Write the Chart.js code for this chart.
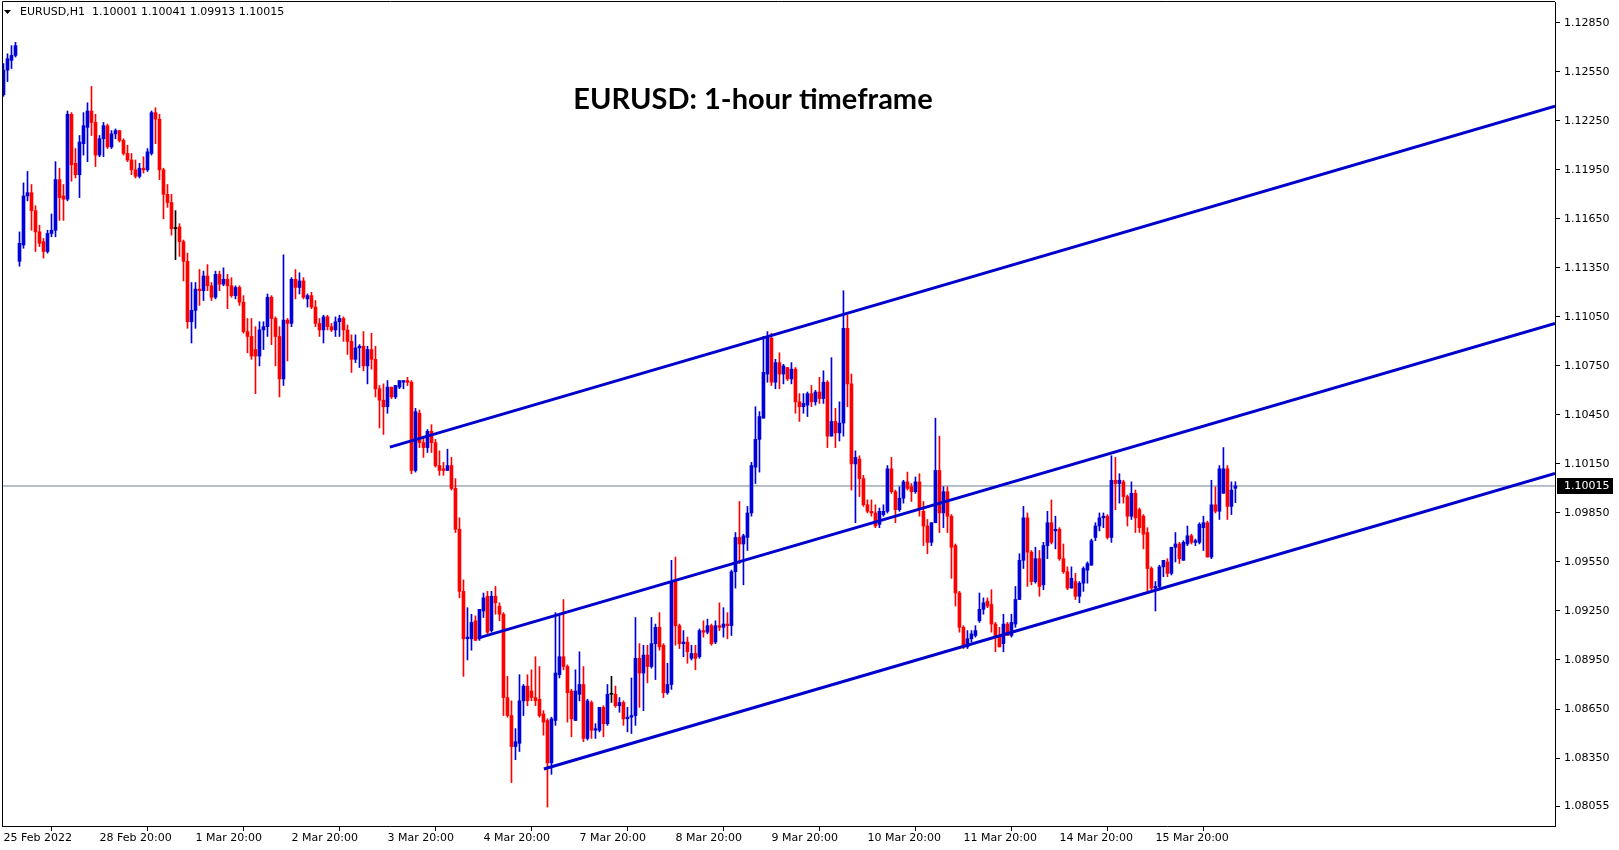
<!DOCTYPE html>
<html>
<head>
<meta charset="utf-8">
<title>EURUSD H1</title>
<script src="https://cdn.jsdelivr.net/npm/chart.js"></script>
<style>
  html, body { margin: 0; padding: 0; background: #fff; }
</style>
</head>
<body>
<canvas id="eurusd" width="1619" height="850"></canvas>
<script>
// EURUSD H1 candles, bar 0 = 25 Feb 20:00
const open = [
1.1241,1.1256,1.1262,1.1265,1.1139,1.1149,1.1179,1.1181,1.1170,1.1157,
1.1151,1.1145,1.1156,1.1158,1.1189,1.1179,1.1177,1.1229,1.1199,1.1192,
1.1211,1.1221,1.1231,1.1224,1.1204,1.1214,1.1222,1.1209,1.1217,1.1219,
1.1213,1.1205,1.1201,1.1195,1.1191,1.1196,1.1195,1.1205,1.1230,1.1226,
1.1195,1.1180,1.1175,1.1159,1.1160,1.1151,1.1139,1.1102,1.1109,1.1122,
1.1121,1.1130,1.1124,1.1117,1.1131,1.1125,1.1128,1.1124,1.1118,1.1123,
1.1114,1.1096,1.1093,1.1085,1.1081,1.1097,1.1099,1.1117,1.1104,1.1093,
1.1067,1.1103,1.1101,1.1128,1.1123,1.1127,1.1116,1.1118,1.1111,1.1101,
1.1097,1.1105,1.1099,1.1097,1.1102,1.1104,1.1097,1.1090,1.1079,1.1086,
1.1087,1.1075,1.1085,1.1079,1.1061,1.1054,1.1050,1.1062,1.1056,1.1062,
1.1065,1.1066,1.1065,1.1011,1.1046,1.1028,1.1025,1.1035,1.1028,1.1014,
1.1012,1.1011,1.1014,1.1000,1.0975,1.0937,1.0908,1.0908,1.0919,1.0908,
1.0925,1.0934,1.0913,1.0934,1.0928,1.0923,1.0872,1.0861,1.0842,1.0844,
1.0870,1.0879,1.0876,1.0872,1.0871,1.0862,1.0858,1.0832,1.0858,1.0886,
1.0897,1.0891,1.0876,1.0858,1.0874,1.0880,1.0847,1.0869,1.0852,1.0852,
1.0866,1.0856,1.0874,1.0874,1.0867,1.0869,1.0859,1.0860,1.0861,1.0896,
1.0887,1.0898,1.0891,1.0905,1.0915,1.0904,1.0875,1.0880,1.0943,1.0916,
1.0905,1.0906,1.0896,1.0899,1.0897,1.0913,1.0912,1.0916,1.0906,1.0916,
1.0915,1.0917,1.0916,1.0949,1.0970,1.0966,1.0970,1.0985,1.1013,1.1030,
1.1043,1.1070,1.1092,1.1065,1.1077,1.1070,1.1074,1.1067,1.1073,1.1053,
1.1050,1.1051,1.1058,1.1053,1.1059,1.1055,1.1065,1.1032,1.1041,1.1034,
1.1040,1.1098,1.1064,1.1015,1.1018,1.1006,1.0990,1.0986,1.0985,1.0978,
1.0984,1.0986,1.1012,1.0998,1.0987,1.0994,1.1004,1.1001,1.0998,1.1004,
1.0986,1.0977,1.0967,1.0979,1.1011,1.0985,1.0998,1.0983,1.0965,1.0936,
1.0915,1.0903,1.0908,1.0910,1.0919,1.0926,1.0931,1.0929,1.0917,1.0910,
1.0905,1.0917,1.0910,1.0917,1.0932,1.0956,1.0982,1.0961,1.0943,1.0957,
1.0941,1.0965,1.0979,1.0974,1.0975,1.0957,1.0949,1.0939,1.0943,1.0934,
1.0942,1.0950,1.0953,1.0970,1.0977,1.0982,1.0983,1.0970,1.1005,1.1003,
1.1004,1.0995,1.0983,1.0997,1.0987,1.0983,1.0973,1.0951,1.0939,1.0940,
1.0952,1.0955,1.0948,1.0964,1.0966,1.0956,1.0966,1.0971,1.0967,1.0967,
1.0976,1.0979,1.0958,1.0990,1.0986,1.0997,1.1012,1.0989,1.10001]
const high = [
1.1260,1.1266,1.1271,1.1273,1.1157,1.1187,1.1194,1.1186,1.1173,1.1161,
1.1153,1.1158,1.1168,1.1200,1.1196,1.1186,1.1231,1.1230,1.1208,1.1216,
1.1230,1.1236,1.1246,1.1229,1.1216,1.1224,1.1223,1.1219,1.1220,1.1219,
1.1214,1.1210,1.1205,1.1201,1.1199,1.1203,1.1208,1.1231,1.1233,1.1229,
1.1196,1.1186,1.1180,1.1170,1.1162,1.1152,1.1144,1.1126,1.1126,1.1134,
1.1133,1.1137,1.1126,1.1133,1.1133,1.1135,1.1131,1.1129,1.1124,1.1124,
1.1118,1.1104,1.1104,1.1099,1.1102,1.1102,1.1119,1.1118,1.1105,1.1099,
1.1143,1.1104,1.1129,1.1134,1.1132,1.1129,1.1119,1.1120,1.1115,1.1104,
1.1106,1.1106,1.1101,1.1105,1.1106,1.1105,1.1100,1.1094,1.1094,1.1088,
1.1096,1.1087,1.1095,1.1087,1.1063,1.1064,1.1066,1.1062,1.1063,1.1066,
1.1066,1.1068,1.1066,1.1049,1.1048,1.1031,1.1036,1.1039,1.1030,1.1023,
1.1016,1.1024,1.1019,1.1006,1.0982,1.0944,1.0927,1.0923,1.0922,1.0926,
1.0936,1.0937,1.0937,1.0940,1.0930,1.0924,1.0885,1.0870,1.0853,1.0886,
1.0880,1.0886,1.0889,1.0897,1.0891,1.0864,1.0859,1.0860,1.0924,1.0923,
1.0932,1.0892,1.0877,1.0889,1.0900,1.0891,1.0871,1.0870,1.0856,1.0866,
1.0867,1.0880,1.0885,1.0879,1.0872,1.0870,1.0866,1.0884,1.0921,1.0905,
1.0904,1.0904,1.0921,1.0917,1.0924,1.0905,1.0893,1.0956,1.0958,1.0917,
1.0913,1.0909,1.0904,1.0904,1.0914,1.0919,1.0920,1.0917,1.0919,1.0930,
1.0927,1.0924,1.0950,1.0973,1.0992,1.0972,1.0989,1.1016,1.1050,1.1047,
1.1093,1.1096,1.1095,1.1079,1.1083,1.1076,1.1074,1.1077,1.1074,1.1058,
1.1058,1.1059,1.1063,1.1060,1.1068,1.1072,1.1066,1.1080,1.1049,1.1053,
1.1121,1.1106,1.1070,1.1023,1.1020,1.1008,1.0993,1.0993,1.0990,1.0988,
1.0990,1.1014,1.1019,1.0999,1.1001,1.1005,1.1010,1.1003,1.1007,1.1009,
1.0992,1.0981,1.0979,1.1043,1.1032,1.1001,1.1001,1.0984,1.0966,1.0937,
1.0916,1.0913,1.0913,1.0916,1.0936,1.0933,1.0933,1.0938,1.0918,1.0915,
1.0923,1.0918,1.0923,1.0940,1.0960,1.0989,1.0985,1.0962,1.0964,1.0962,
1.0967,1.0986,1.0993,1.0983,1.0976,1.0966,1.0952,1.0952,1.0948,1.0943,
1.0952,1.0955,1.0969,1.0979,1.0985,1.0985,1.0984,1.1020,1.1019,1.1009,
1.1005,1.0996,1.1004,1.0999,1.0988,1.0984,1.0976,1.0952,1.0943,1.0953,
1.0956,1.0957,1.0964,1.0973,1.0967,1.0968,1.0977,1.0972,1.0969,1.0979,
1.0983,1.0980,1.1005,1.1001,1.1014,1.1025,1.1014,1.1004,1.10041]
const low = [
1.1240,1.1249,1.1257,1.1264,1.1136,1.1147,1.1176,1.1158,1.1145,1.1148,
1.1141,1.1144,1.1154,1.1154,1.1164,1.1164,1.1176,1.1188,1.1190,1.1178,
1.1204,1.1200,1.1216,1.1197,1.1203,1.1203,1.1208,1.1208,1.1214,1.1212,
1.1204,1.1200,1.1192,1.1190,1.1190,1.1193,1.1194,1.1204,1.1211,1.1189,
1.1165,1.1172,1.1155,1.1140,1.1142,1.1127,1.1098,1.1089,1.1098,1.1112,
1.1115,1.1121,1.1115,1.1116,1.1121,1.1124,1.1110,1.1117,1.1116,1.1112,
1.1095,1.1083,1.1079,1.1058,1.1075,1.1085,1.1093,1.1088,1.1075,1.1056,
1.1063,1.1078,1.1099,1.1116,1.1119,1.1116,1.1111,1.1110,1.1099,1.1093,
1.1089,1.1097,1.1096,1.1093,1.1093,1.1090,1.1082,1.1071,1.1077,1.1074,
1.1072,1.1064,1.1073,1.1056,1.1037,1.1033,1.1046,1.1055,1.1055,1.1061,
1.1061,1.1063,1.1009,1.1010,1.1025,1.1019,1.1022,1.1022,1.1013,1.1008,
1.1008,1.1011,1.0999,1.0973,1.0933,1.0885,1.0895,1.0901,1.0907,1.0907,
1.0921,1.0910,1.0912,1.0923,1.0919,1.0861,1.0860,1.0820,1.0834,1.0839,
1.0861,1.0867,1.0870,1.0867,1.0860,1.0849,1.0805,1.0825,1.0855,1.0884,
1.0889,1.0857,1.0848,1.0858,1.0870,1.0845,1.0846,1.0847,1.0847,1.0851,
1.0848,1.0855,1.0869,1.0866,1.0863,1.0855,1.0851,1.0850,1.0855,1.0866,
1.0864,1.0881,1.0890,1.0883,1.0901,1.0872,1.0874,1.0877,1.0904,1.0902,
1.0897,1.0893,1.0895,1.0889,1.0896,1.0909,1.0911,1.0904,1.0905,1.0913,
1.0909,1.0908,1.0910,1.0939,1.0954,1.0941,1.0962,1.0983,1.1003,1.1010,
1.1043,1.1065,1.1063,1.1061,1.1061,1.1064,1.1066,1.1064,1.1046,1.1041,
1.1046,1.1044,1.1050,1.1051,1.1052,1.1052,1.1025,1.1032,1.1025,1.1029,
1.1032,1.1050,1.0999,1.0979,1.0995,1.0989,1.0985,1.0983,1.0976,1.0976,
1.0983,1.0985,1.0997,1.0979,1.0986,1.0991,1.0999,1.0992,1.0997,1.0983,
1.0965,1.0960,1.0965,1.0979,1.0973,1.0976,1.0973,1.0945,1.0928,1.0912,
1.0902,1.0902,1.0906,1.0909,1.0918,1.0923,1.0927,1.0912,1.0900,1.0903,
1.0900,1.0910,1.0909,1.0915,1.0932,1.0951,1.0940,1.0941,1.0942,1.0934,
1.0938,1.0957,1.0966,1.0963,1.0956,1.0948,1.0938,1.0939,1.0932,1.0930,
1.0937,1.0942,1.0953,1.0968,1.0974,1.0976,1.0969,1.0967,1.0987,1.0991,
1.0991,1.0977,1.0981,1.0973,1.0973,1.0963,1.0937,1.0937,1.0925,1.0939,
1.0946,1.0946,1.0947,1.0955,1.0954,1.0956,1.0965,1.0966,1.0965,1.0966,
1.0962,1.0958,1.0957,1.0985,1.0981,1.0997,1.0981,1.0984,1.09913]
const close = [
1.1256,1.1263,1.1265,1.1271,1.1150,1.1179,1.1181,1.1170,1.1157,1.1150,
1.1145,1.1156,1.1158,1.1189,1.1178,1.1177,1.1229,1.1198,1.1192,1.1212,
1.1222,1.1231,1.1224,1.1204,1.1214,1.1222,1.1209,1.1217,1.1219,1.1213,
1.1205,1.1201,1.1195,1.1191,1.1196,1.1195,1.1206,1.1230,1.1226,1.1195,
1.1180,1.1175,1.1159,1.1159,1.1151,1.1139,1.1102,1.1109,1.1122,1.1121,
1.1130,1.1124,1.1117,1.1131,1.1125,1.1128,1.1124,1.1118,1.1123,1.1114,
1.1096,1.1093,1.1081,1.1081,1.1097,1.1099,1.1117,1.1104,1.1093,1.1067,
1.1103,1.1101,1.1128,1.1123,1.1127,1.1117,1.1118,1.1111,1.1101,1.1097,
1.1105,1.1099,1.1097,1.1102,1.1104,1.1097,1.1090,1.1079,1.1086,1.1087,
1.1075,1.1085,1.1079,1.1061,1.1054,1.1050,1.1062,1.1056,1.1063,1.1066,
1.1066,1.1065,1.1011,1.1047,1.1028,1.1025,1.1035,1.1028,1.1014,1.1011,
1.1011,1.1014,1.1000,1.0975,1.0937,1.0908,1.0909,1.0918,1.0907,1.0926,
1.0933,1.0912,1.0934,1.0930,1.0923,1.0872,1.0861,1.0842,1.0845,1.0870,
1.0879,1.0870,1.0872,1.0870,1.0861,1.0857,1.0832,1.0859,1.0887,1.0897,
1.0891,1.0875,1.0859,1.0876,1.0880,1.0847,1.0870,1.0852,1.0853,1.0866,
1.0856,1.0874,1.0874,1.0867,1.0869,1.0859,1.0860,1.0861,1.0896,1.0887,
1.0898,1.0891,1.0905,1.0915,1.0903,1.0875,1.0880,1.0943,1.0916,1.0905,
1.0906,1.0900,1.0899,1.0896,1.0913,1.0912,1.0916,1.0905,1.0916,1.0915,
1.0917,1.0916,1.0949,1.0970,1.0966,1.0971,1.0985,1.1014,1.1030,1.1044,
1.1071,1.1093,1.1065,1.1077,1.1070,1.1075,1.1067,1.1073,1.1053,1.1050,
1.1052,1.1058,1.1053,1.1059,1.1055,1.1065,1.1032,1.1041,1.1034,1.1040,
1.1098,1.1064,1.1015,1.1019,1.1006,1.0990,1.0986,1.0985,1.0977,1.0986,
1.0986,1.1012,1.0998,1.0987,1.0994,1.1004,1.1000,1.0998,1.1004,1.0987,
1.0977,1.0967,1.0979,1.1011,1.0985,1.0998,1.0983,1.0964,1.0936,1.0915,
1.0903,1.0908,1.0911,1.0913,1.0926,1.0930,1.0928,1.0917,1.0910,1.0903,
1.0917,1.0910,1.0918,1.0932,1.0956,1.0982,1.0961,1.0943,1.0957,1.0940,
1.0965,1.0979,1.0967,1.0975,1.0957,1.0949,1.0939,1.0945,1.0934,1.0942,
1.0951,1.0954,1.0968,1.0977,1.0982,1.0983,1.0970,1.1005,1.1003,1.1005,
1.0995,1.0983,1.0997,1.0982,1.0976,1.0972,1.0951,1.0939,1.0940,1.0952,
1.0956,1.0948,1.0964,1.0966,1.0957,1.0967,1.0971,1.0967,1.0968,1.0978,
1.0979,1.0958,1.0990,1.0986,1.1012,1.1012,1.0989,1.0999,1.10015]

// time axis labels sit every 24 bars
const xTickBars = [0,24,48,72,96,120,144,168,192,216,240,264,288]
const xTickLabels = ['25 Feb 2022','28 Feb 20:00','1 Mar 20:00','2 Mar 20:00','3 Mar 20:00','4 Mar 20:00',
  '7 Mar 20:00','8 Mar 20:00','9 Mar 20:00','10 Mar 20:00','11 Mar 20:00','14 Mar 20:00','15 Mar 20:00']
const yTickValues = [1.12850,1.12550,1.12250,1.11950,1.11650,1.11350,1.11050,1.10750,1.10450,
  1.10150,1.09850,1.09550,1.09250,1.08950,1.08650,1.08350,1.08055]

// the three channel lines: first bar, price there, price at the right edge
const channelStartBar = [96.6, 118.6, 135.1]
const channelStartPrice = [1.10253, 1.09084, 1.08283]
const channelEndPrice = [1.12340, 1.11009, 1.10091]

const xMin = -0.375, xMax = 387.9
const yMin = 1.07934, yMax = 1.12977

const upColor = '#0000d8'
const downColor = '#ff0000'
const lineColor = '#0000cd'

function candleColor(i){
    if (close[i] > open[i]) return upColor
    if (close[i] < open[i]) return downColor
    return '#000000'
}

let wicks = []
let bodies = []
for (let i = 0; i < open.length; i++) {
    wicks.push({x: i, y: [low[i], high[i]]})
    bodies.push({x: i, y: [open[i], close[i]]})
}
const last = close.length - 1

let channelSets = channelStartBar.map((b, k) => ({
    type: 'line',
    data: [{x: b, y: channelStartPrice[k]}, {x: xMax, y: channelEndPrice[k]}],
    borderColor: lineColor,
    borderWidth: 3,
    pointRadius: 0,
    fill: false,
    order: 0
}))

// frame, header line, title and the bid price box
const decor = {
    id: 'decor',
    afterDraw(chart){
        const ctx = chart.ctx
        const a = chart.chartArea
        ctx.save()
        ctx.strokeStyle = '#000'
        ctx.lineWidth = 1
        ctx.beginPath()
        ctx.moveTo(2.5, a.bottom)
        ctx.lineTo(2.5, 1.5)
        ctx.lineTo(a.right, 1.5)
        ctx.stroke()

        ctx.fillStyle = '#000'
        ctx.beginPath()
        ctx.moveTo(4, 10); ctx.lineTo(11, 10); ctx.lineTo(7.5, 14); ctx.closePath()
        ctx.fill()
        ctx.font = '11px "DejaVu Sans"'
        ctx.textBaseline = 'middle'
        ctx.textAlign = 'left'
        ctx.fillText('EURUSD,H1  ' + [open[last], high[last], low[last], close[last]].map(v => v.toFixed(5)).join(' '), 20, 12.5)

        ctx.font = 'bold 29px Lato'
        ctx.textAlign = 'center'
        ctx.textBaseline = 'alphabetic'
        ctx.fillText('EURUSD: 1-hour timeframe', 753, 109)

        const y = chart.scales.y.getPixelForValue(close[last])
        ctx.fillStyle = '#000'
        ctx.fillRect(a.right + 2, Math.round(y) - 8, 56, 16)
        ctx.fillStyle = '#fff'
        ctx.font = '11px "DejaVu Sans"'
        ctx.textAlign = 'left'
        ctx.textBaseline = 'middle'
        ctx.fillText(close[last].toFixed(5), a.right + 9, Math.round(y))
        ctx.restore()
    }
}

const tickFont = {family: 'DejaVu Sans', size: 11}

let myChart = new Chart(document.getElementById('eurusd').getContext('2d'), {
    type: 'bar',
    data: {
        datasets: [
            ...channelSets,
            {
                data: bodies,
                backgroundColor: ctx => candleColor(ctx.dataIndex),
                grouped: false,
                barPercentage: 1,
                categoryPercentage: 1,
                maxBarThickness: 3,
                minBarLength: 1,
                borderWidth: 0,
                order: 1
            },
            {
                data: wicks,
                backgroundColor: ctx => candleColor(ctx.dataIndex),
                grouped: false,
                barPercentage: 1,
                categoryPercentage: 1,
                maxBarThickness: 1,
                borderWidth: 0,
                order: 2
            },
            {
                type: 'line',
                data: [{x: xMin, y: close[last]}, {x: xMax, y: close[last]}],
                borderColor: '#708090',
                borderWidth: 1,
                pointRadius: 0,
                fill: false,
                order: 3
            }
        ]
    },
    options: {
        responsive: false,
        devicePixelRatio: 1,
        animation: false,
        layout: {padding: {left: 2, top: 2, right: 0, bottom: 0}},
        plugins: {legend: {display: false}, tooltip: {enabled: false}},
        scales: {
            x: {
                type: 'linear',
                position: 'bottom',
                min: xMin,
                max: xMax,
                offset: false,
                afterBuildTicks: s => { s.ticks = xTickBars.map(v => ({value: v})) },
                afterFit: s => { s.height = 24; s.paddingLeft = 0; s.paddingRight = 0 },
                grid: {display: true, drawOnChartArea: false, drawTicks: true, tickLength: 5, color: '#000'},
                border: {display: true, color: '#000'},
                ticks: {
                    autoSkip: false, maxRotation: 0, align: 'start', padding: 1,
                    color: '#000', font: tickFont,
                    callback: (v, i) => xTickLabels[i]
                }
            },
            y: {
                type: 'linear',
                position: 'right',
                min: yMin,
                max: yMax,
                afterBuildTicks: s => { s.ticks = yTickValues.map(v => ({value: v})) },
                afterFit: s => { s.width = 64; s.paddingTop = 0; s.paddingBottom = 0 },
                grid: {display: true, drawOnChartArea: false, drawTicks: true, tickLength: 5, color: '#000'},
                border: {display: true, color: '#000'},
                ticks: {padding: 4, color: '#000', font: tickFont, callback: v => v.toFixed(5)}
            }
        }
    },
    plugins: [decor]
})
</script>
</body>
</html>
